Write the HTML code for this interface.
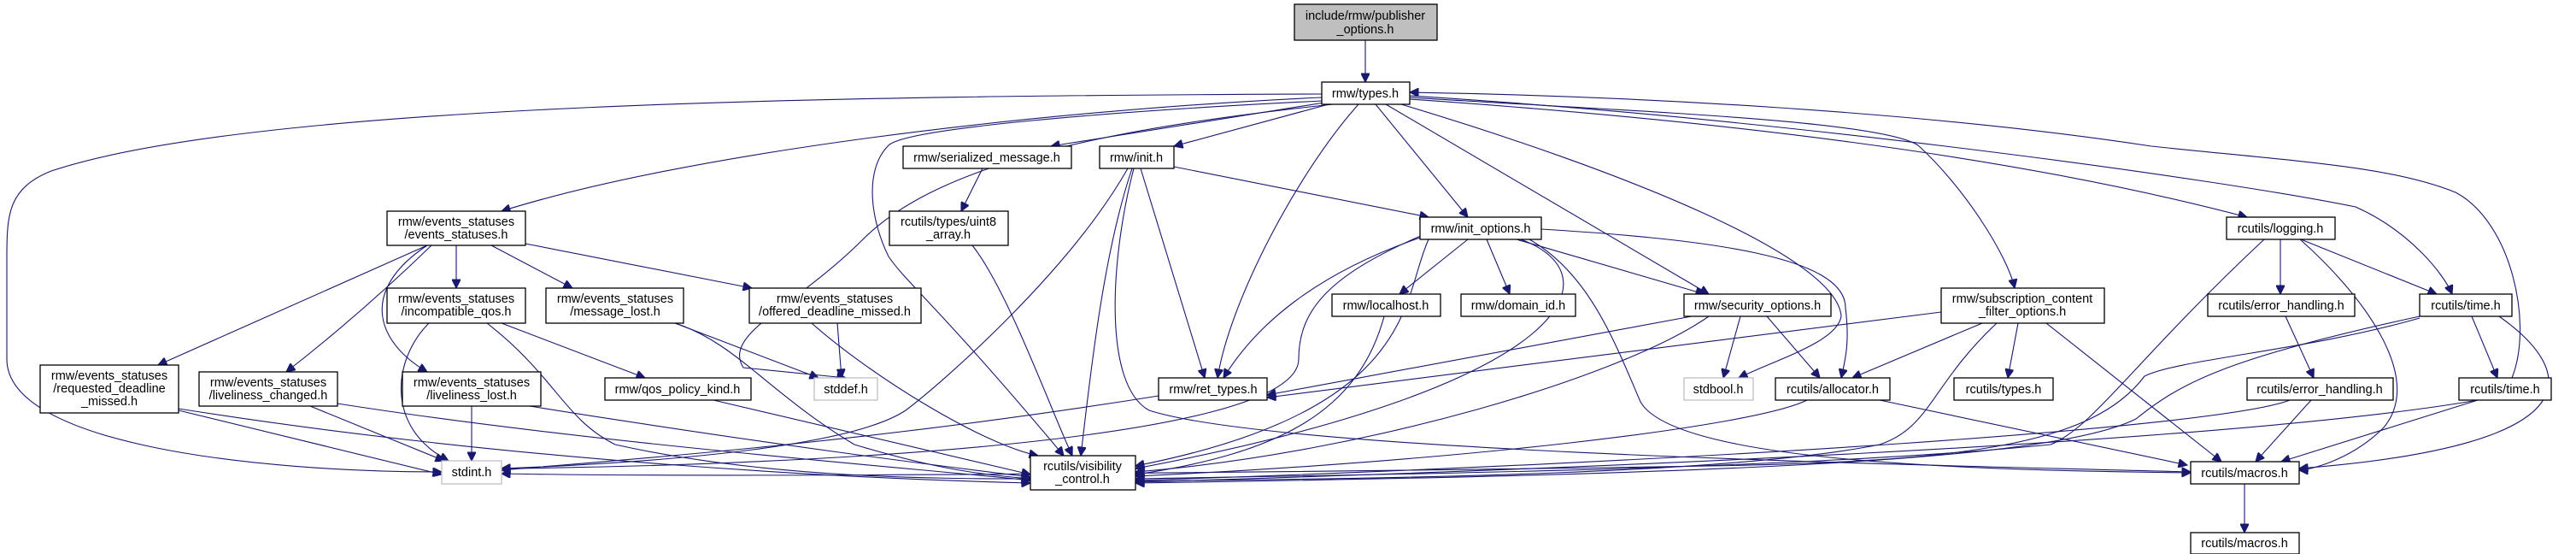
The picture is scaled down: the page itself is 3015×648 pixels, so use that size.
<!DOCTYPE html>
<html><head><meta charset="utf-8"><style>
html,body{margin:0;padding:0;background:#fff}
svg{display:block}
text{font-family:"Liberation Sans",sans-serif;font-size:14.5px;fill:#000;text-anchor:middle}
.b{fill:#fff;stroke:#000;stroke-width:1.3}
.g{fill:#fff;stroke:#bfbfbf;stroke-width:1.3}
path{fill:none;stroke:#191970;stroke-width:1.1}
</style></head><body>
<svg width="3015" height="648" viewBox="0 0 3015 648" xmlns="http://www.w3.org/2000/svg">
<defs><marker id="a" viewBox="0 0 10 10" refX="10" refY="5" markerWidth="12" markerHeight="10" markerUnits="userSpaceOnUse" orient="auto"><path d="M0,0 L10,5 L0,10 z" style="fill:#191970;stroke:#191970"/></marker></defs>
<g marker-end="url(#a)">
<path d="M1598,47 L1598,96"/>
<path d="M1547,110 C1000,112 300,120 60,200 C10,220 8,250 8,300 L8,420 C8,520 300,552 517,552"/>
<path d="M1547,114 C1200,130 800,180 587,247"/>
<path d="M1560,122 C1300,150 1100,190 1010,280 C930,360 845,390 870,430 L990,442"/>
<path d="M1547,118 C1300,130 1060,150 1040,170 C1010,200 1020,260 1040,300 C1060,330 1100,360 1245,533"/>
<path d="M1550,120 L1230,171"/>
<path d="M1555,122 L1374,171"/>
<path d="M1590,122 C1520,200 1440,350 1425,442"/>
<path d="M1610,122 L1718,254"/>
<path d="M1622,122 L2000,344"/>
<path d="M1640,122 C1900,200 2150,300 2155,370 C2150,400 2080,420 2035,442"/>
<path d="M1650,114 C1900,130 2200,140 2245,170 C2300,220 2350,300 2358,337"/>
<path d="M1650,116 C2000,140 2350,180 2630,254"/>
<path d="M1650,112 C2100,140 2600,210 2757,242 C2820,270 2860,320 2870,344"/>
<path d="M2940,442 C2965,380 2940,260 2874,225 C2800,195 2700,190 2518,171 C2250,130 1900,112 1650,108"/>
<path d="M500,287 L185,427"/>
<path d="M505,287 C440,350 380,400 335,435"/>
<path d="M500,287 C420,340 440,400 500,435"/>
<path d="M534,287 L534,337"/>
<path d="M575,287 L670,337"/>
<path d="M615,285 L880,337"/>
<path d="M502,378 C460,420 450,500 525,539"/>
<path d="M587,378 L755,442"/>
<path d="M570,378 C650,440 660,490 720,520 C900,560 1100,560 1206,560"/>
<path d="M790,378 L958,442"/>
<path d="M790,378 C860,400 900,460 1000,520 C1100,550 1150,555 1206,560"/>
<path d="M980,378 L985,442"/>
<path d="M950,378 C1020,440 1150,520 1215,533"/>
<path d="M209,480 L517,555"/>
<path d="M209,478 C600,540 1000,560 1206,565"/>
<path d="M363,475 L520,539"/>
<path d="M395,472 C700,520 1100,550 1206,562"/>
<path d="M552,475 L552,539"/>
<path d="M620,475 C900,520 1100,545 1206,558"/>
<path d="M835,468 L1206,555"/>
<path d="M1150,197 L1125,247"/>
<path d="M1138,287 C1180,340 1230,480 1255,533"/>
<path d="M1320,197 C1250,320 1100,450 1060,480 C1000,520 800,540 587,548"/>
<path d="M1325,197 C1290,300 1275,450 1265,533"/>
<path d="M1327,197 C1300,300 1290,450 1345,480 C1500,530 2300,545 2564,552"/>
<path d="M1335,197 L1410,442"/>
<path d="M1374,195 L1672,254"/>
<path d="M1662,278 C1540,320 1470,380 1432,442"/>
<path d="M1665,275 C1560,320 1520,360 1520,420 C1520,520 900,545 587,548"/>
<path d="M1672,280 C1640,350 1660,480 1329,545"/>
<path d="M1718,280 L1638,344"/>
<path d="M1740,280 L1767,344"/>
<path d="M1775,280 L1995,344"/>
<path d="M1780,280 C1890,320 1850,450 1329,548"/>
<path d="M1790,280 C1860,320 1890,400 1920,470 C1960,540 2300,550 2564,553"/>
<path d="M1804,268 C2000,280 2160,300 2160,360 C2165,400 2160,420 2155,442"/>
<path d="M1620,370 C1590,480 1500,530 1329,555"/>
<path d="M1356,463 C1000,520 700,540 587,550"/>
<path d="M1980,370 L1483,462"/>
<path d="M2037,370 L2017,442"/>
<path d="M2068,370 L2130,442"/>
<path d="M2000,370 C1900,440 1600,530 1329,552"/>
<path d="M2272,365 L1483,465"/>
<path d="M2320,378 L2168,442"/>
<path d="M2337,378 C2260,450 2260,500 2200,520 C2000,560 1500,560 1329,563"/>
<path d="M2362,378 L2350,442"/>
<path d="M2395,378 L2600,540"/>
<path d="M2115,468 C2050,500 1700,540 1329,557"/>
<path d="M2200,468 L2560,544"/>
<path d="M2650,280 C2500,420 2450,500 2400,520 C2100,550 1600,555 1329,560"/>
<path d="M2669,280 L2669,344"/>
<path d="M2693,280 L2852,344"/>
<path d="M2692,280 C2760,340 2840,440 2790,500 C2750,540 2700,550 2691,550"/>
<path d="M2675,370 L2708,442"/>
<path d="M2832,370 C2600,420 2550,450 2500,490 C2400,540 2000,555 1329,565"/>
<path d="M2832,372 C2700,410 2550,420 2510,440 C2450,520 2300,540 2000,545 C1700,550 900,560 587,554"/>
<path d="M2893,370 L2923,442"/>
<path d="M2925,370 C3010,430 3050,520 2691,548"/>
<path d="M2680,468 C2600,500 2000,540 1329,562"/>
<path d="M2705,468 L2640,540"/>
<path d="M2900,468 C2600,520 1800,550 1329,564"/>
<path d="M2900,468 L2670,540"/>
<path d="M2627,566 L2627,623"/>
</g>
<rect x="1515" y="5" width="167" height="42" fill="#bfbfbf" stroke="#000" stroke-width="1.3"/>
<text x="1598" y="23">include/rmw/publisher</text><text x="1598" y="39">_options.h</text>
<rect class="b" x="1547" y="96" width="103" height="26"/><text x="1598" y="114">rmw/types.h</text>
<rect class="b" x="1057" y="171" width="197" height="26"/><text x="1155" y="189">rmw/serialized_message.h</text>
<rect class="b" x="1287" y="171" width="87" height="26"/><text x="1330" y="189">rmw/init.h</text>
<rect class="b" x="1041" y="247" width="139" height="40"/><text x="1110" y="264">rcutils/types/uint8</text><text x="1110" y="279">_array.h</text>
<rect class="b" x="1662" y="254" width="142" height="26"/><text x="1733" y="272">rmw/init_options.h</text>
<rect class="b" x="453" y="247" width="162" height="40"/><text x="534" y="264">rmw/events_statuses</text><text x="534" y="279">/events_statuses.h</text>
<rect class="b" x="453" y="337" width="162" height="41"/><text x="534" y="354">rmw/events_statuses</text><text x="534" y="369">/incompatible_qos.h</text>
<rect class="b" x="639" y="337" width="161" height="41"/><text x="720" y="354">rmw/events_statuses</text><text x="720" y="369">/message_lost.h</text>
<rect class="b" x="877" y="337" width="201" height="41"/><text x="977" y="354">rmw/events_statuses</text><text x="977" y="369">/offered_deadline_missed.h</text>
<rect class="b" x="1559" y="344" width="127" height="26"/><text x="1622" y="362">rmw/localhost.h</text>
<rect class="b" x="1710" y="344" width="134" height="26"/><text x="1777" y="362">rmw/domain_id.h</text>
<rect class="b" x="1971" y="344" width="172" height="26"/><text x="2057" y="362">rmw/security_options.h</text>
<rect class="b" x="2272" y="337" width="191" height="41"/><text x="2367" y="354">rmw/subscription_content</text><text x="2367" y="369">_filter_options.h</text>
<rect class="b" x="2606" y="254" width="127" height="26"/><text x="2669" y="272">rcutils/logging.h</text>
<rect class="b" x="2584" y="344" width="172" height="26"/><text x="2670" y="362">rcutils/error_handling.h</text>
<rect class="b" x="2832" y="344" width="108" height="26"/><text x="2886" y="362">rcutils/time.h</text>
<rect class="b" x="47" y="427" width="162" height="56"/><text x="128" y="444">rmw/events_statuses</text><text x="128" y="459">/requested_deadline</text><text x="128" y="474">_missed.h</text>
<rect class="b" x="233" y="435" width="162" height="40"/><text x="314" y="452">rmw/events_statuses</text><text x="314" y="467">/liveliness_changed.h</text>
<rect class="b" x="471" y="435" width="162" height="40"/><text x="552" y="452">rmw/events_statuses</text><text x="552" y="467">/liveliness_lost.h</text>
<rect class="b" x="708" y="442" width="171" height="26"/><text x="793" y="460">rmw/qos_policy_kind.h</text>
<rect class="g" x="953" y="442" width="74" height="26"/><text x="990" y="460">stddef.h</text>
<rect class="b" x="1356" y="442" width="127" height="26"/><text x="1420" y="460">rmw/ret_types.h</text>
<rect class="g" x="1971" y="442" width="81" height="26"/><text x="2011" y="460">stdbool.h</text>
<rect class="b" x="2078" y="442" width="134" height="26"/><text x="2145" y="460">rcutils/allocator.h</text>
<rect class="b" x="2287" y="442" width="116" height="26"/><text x="2345" y="460">rcutils/types.h</text>
<rect class="b" x="2630" y="442" width="171" height="26"/><text x="2715" y="460">rcutils/error_handling.h</text>
<rect class="b" x="2878" y="442" width="108" height="26"/><text x="2932" y="460">rcutils/time.h</text>
<rect class="g" x="517" y="539" width="70" height="27"/><text x="552" y="557">stdint.h</text>
<rect class="b" x="1206" y="533" width="123" height="40"/><text x="1267" y="550">rcutils/visibility</text><text x="1267" y="565">_control.h</text>
<rect class="b" x="2564" y="540" width="127" height="26"/><text x="2627" y="558">rcutils/macros.h</text>
<rect class="b" x="2564" y="623" width="127" height="25"/><text x="2627" y="640">rcutils/macros.h</text>
</svg>
</body></html>
